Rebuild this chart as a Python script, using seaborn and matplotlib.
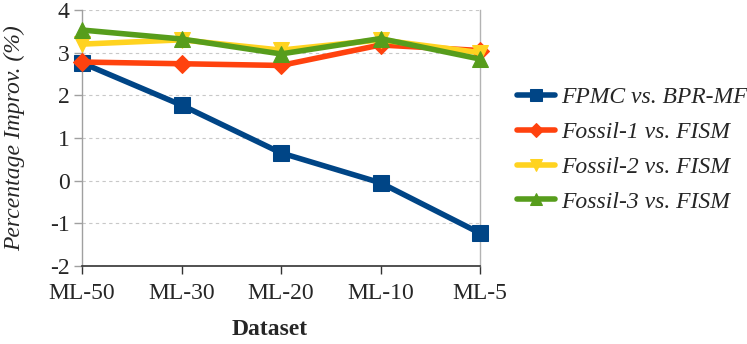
import matplotlib
matplotlib.use("Agg")
import matplotlib.pyplot as plt
import seaborn as sns
import pandas as pd

datasets = ["ML-50", "ML-30", "ML-20", "ML-10", "ML-5"]
fpmc = [2.76, 1.77, 0.65, -0.05, -1.23]
fossil1 = [2.78, 2.74, 2.70, 3.18, 3.05]
fossil2 = [3.20, 3.30, 3.06, 3.30, 3.00]
fossil3 = [3.53, 3.32, 2.97, 3.33, 2.85]
series_names = ["FPMC vs. BPR-MF", "Fossil-1 vs. FISM", "Fossil-2 vs. FISM", "Fossil-3 vs. FISM"]
yticks = [-2, -1, 0, 1, 2, 3, 4]

sns.set_theme(style="white")
plt.rcParams["font.family"] = ["Liberation Serif", "DejaVu Serif"]

rows = []
for name, vals in zip(series_names, [fpmc, fossil1, fossil2, fossil3]):
    for i, (d, v) in enumerate(zip(datasets, vals)):
        rows.append({"Dataset": d, "idx": i, "value": v, "series": name})
df = pd.DataFrame(rows)

colors = ["#004586", "#ff420e", "#ffd320", "#579d1c"]
markers = ["s", "D", "v", "^"]
msizes = [11, 9, 11, 11]

fig = plt.figure(figsize=(7.47, 3.44), dpi=100)
ax = fig.add_axes([0.1098, 0.2267, 0.5328, 0.7443])

for name, c, m, ms in zip(series_names, colors, markers, msizes):
    sub = df[df["series"] == name]
    sns.lineplot(data=sub, x="idx", y="value", ax=ax, color=c, marker=m,
                 markersize=ms, markeredgecolor=c, linewidth=4, label=name,
                 legend=False, clip_on=False, zorder=3)

ax.set_xlim(0, len(datasets) - 1)
ax.set_ylim(-2, 4)
ax.set_yticks(yticks)
ax.set_yticklabels([str(t) for t in yticks])
ax.set_xticks(range(len(datasets)))
ax.set_xticklabels(datasets)
ax.tick_params(axis="both", labelsize=17, direction="out", bottom=True, left=True)
ax.tick_params(axis="y", length=6, width=1, color="#a0a0a0", pad=3)
ax.tick_params(axis="x", length=6, width=1, color="#333333", pad=6)
ax.yaxis.grid(True, linestyle=(0, (3, 3)), color="#c8c8c8", linewidth=0.8)
ax.xaxis.grid(False)
ax.spines["top"].set_visible(False)
ax.spines["right"].set_color("#b3b3b3")
ax.spines["right"].set_linewidth(1.0)
ax.spines["left"].set_color("#a0a0a0")
ax.spines["left"].set_linewidth(1.0)
ax.spines["bottom"].set_color("#333333")
ax.spines["bottom"].set_linewidth(1.2)

ax.set_xlabel("Dataset", fontsize=17, fontweight="bold")
ax.xaxis.set_label_coords(0.472, -0.205)
ax.set_ylabel("Percentage Improv. (%)", fontsize=17, fontstyle="italic", labelpad=18)

handles, labels = ax.get_legend_handles_labels()
leg = fig.legend(handles, labels, loc="upper left", bbox_to_anchor=(0.664, 0.811),
                 frameon=False, prop={"size": 17, "style": "italic"},
                 handlelength=1.6, handletextpad=0.25, labelspacing=0.57,
                 markerscale=0.8)

fig.savefig("out.png", dpi=100)
